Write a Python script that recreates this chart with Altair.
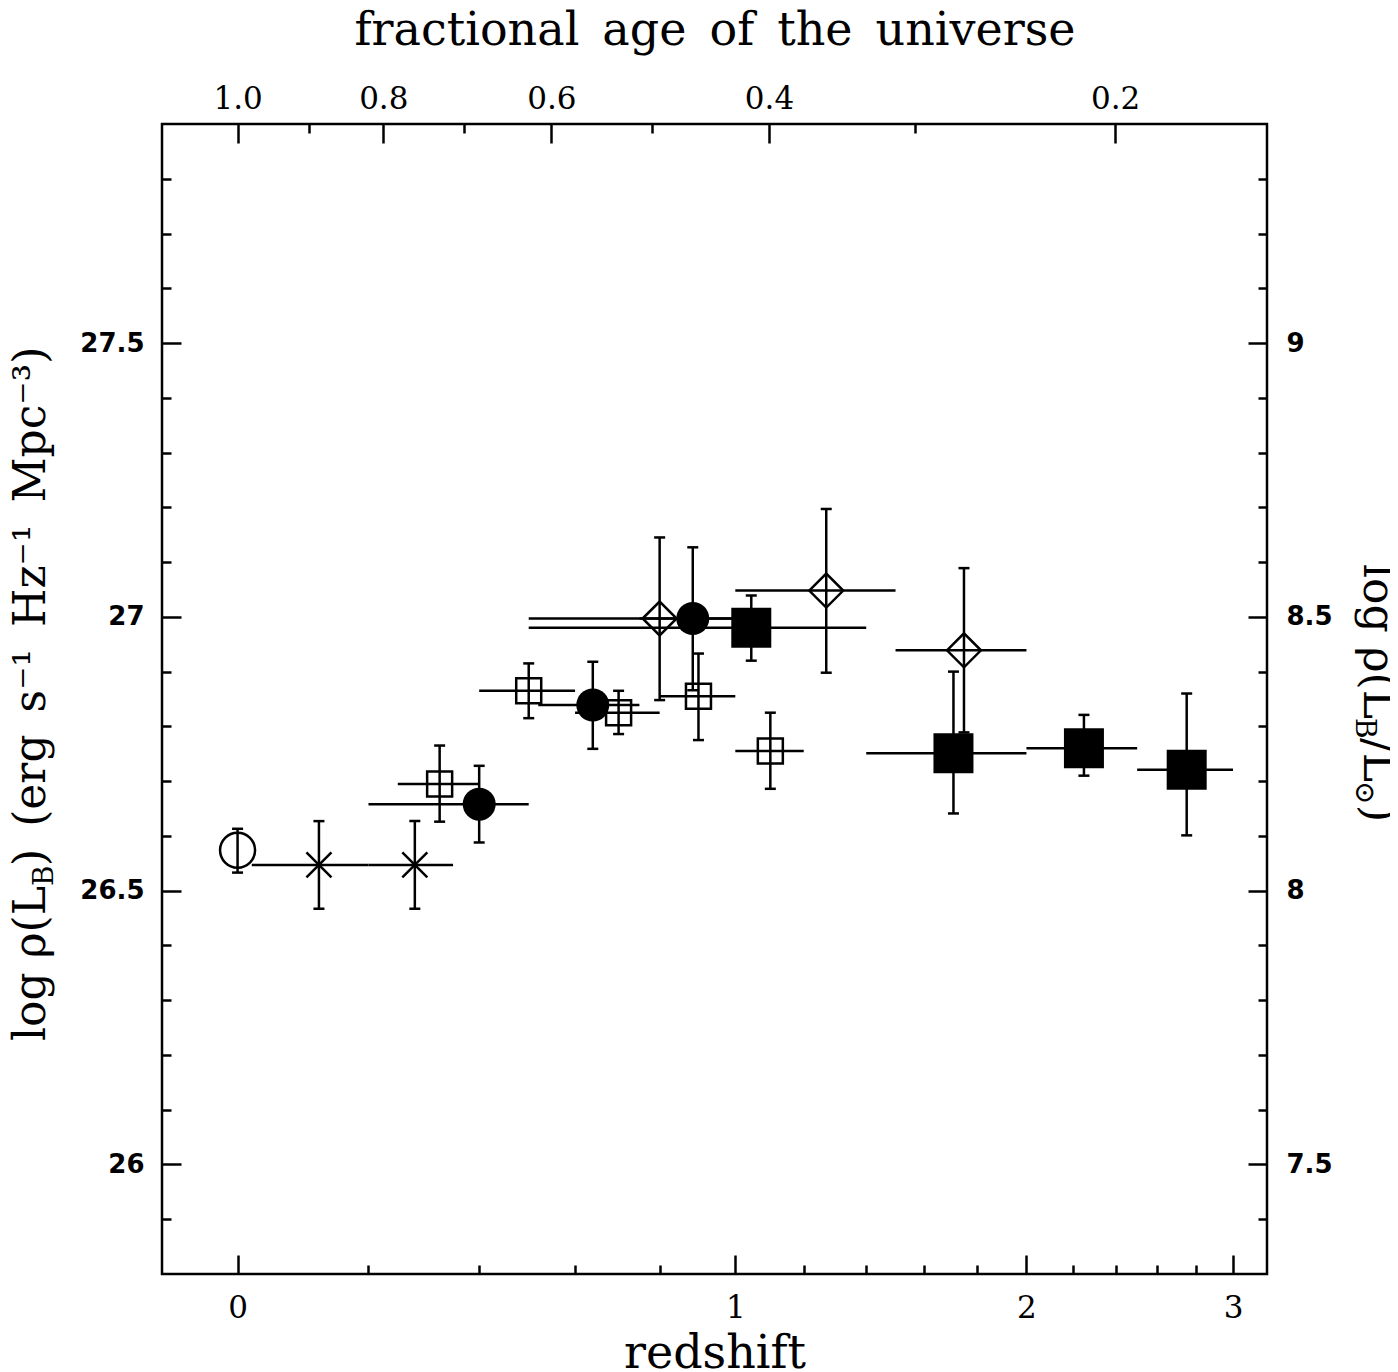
import math
import altair as alt
import pandas as pd

# ---------------- data ----------------
series = ["open circle", "cross", "cross",
          "open square", "open square", "open square", "open square", "open square",
          "filled circle", "filled circle", "filled circle",
          "open diamond", "open diamond", "open diamond",
          "filled square", "filled square", "filled square", "filled square"]
redshift = [0.0, 0.12, 0.28,
            0.325, 0.50, 0.70, 0.90, 1.10,
            0.40, 0.64, 0.885,
            0.80, 1.27, 1.75,
            1.045, 1.71, 2.25, 2.75]
z_low = [0.0, 0.02, 0.20,
         0.25, 0.40, 0.60, 0.80, 1.00,
         0.20, 0.52, 0.75,
         0.50, 1.00, 1.50,
         0.50, 1.40, 2.00, 2.50]
z_high = [0.0, 0.20, 0.35,
          0.40, 0.60, 0.80, 1.00, 1.20,
          0.50, 0.75, 1.00,
          1.00, 1.50, 2.00,
          1.40, 2.00, 2.50, 3.00]
log_rho = [26.574, 26.547, 26.547,
           26.695, 26.865, 26.825, 26.855, 26.755,
           26.658, 26.839, 26.997,
           26.997, 27.048, 26.939,
           26.980, 26.751, 26.760, 26.721]
rho_low = [26.533, 26.467, 26.467,
           26.626, 26.815, 26.786, 26.775, 26.686,
           26.588, 26.759, 26.866,
           26.848, 26.898, 26.789,
           26.920, 26.641, 26.710, 26.601]
rho_high = [26.613, 26.627, 26.627,
            26.765, 26.915, 26.865, 26.933, 26.825,
            26.728, 26.918, 27.127,
            27.145, 27.197, 27.089,
            27.039, 26.900, 26.821, 26.860]

# axis tick values
z_major = [0, 1, 2, 3]
z_major_labels = ["0", "1", "2", "3"]
z_minor = [0.2, 0.4, 0.6, 0.8, 1.2, 1.4, 1.6, 1.8, 2.2, 2.4, 2.6, 2.8]
age_labels = ["1.0", "0.8", "0.6", "0.4", "0.2"]
age_major_z = [0.0, 0.225, 0.548, 1.096, 2.394]
age_minor_z = [0.104, 0.371, 0.782, 1.569]
rho_major = [26.0, 26.5, 27.0, 27.5]
rho_minor = [25.9, 26.1, 26.2, 26.3, 26.4, 26.6, 26.7, 26.8, 26.9,
             27.1, 27.2, 27.3, 27.4, 27.6, 27.7, 27.8]
solar_offset = 18.5  # log rho(L_B/Lsun) = log rho(L_B) - 18.5


def u(z):
    return math.log10(1.0 + z)


df = pd.DataFrame({
    "series": series,
    "u": [u(z) for z in redshift],
    "u_lo": [u(z) for z in z_low],
    "u_hi": [u(z) for z in z_high],
    "log_rho": log_rho,
    "rho_low": rho_low,
    "rho_high": rho_high,
})

X_DOMAIN = [-0.0457, 0.6226]
Y_DOMAIN = [25.8, 27.9]
xscale = alt.Scale(domain=X_DOMAIN, nice=False, zero=False)
yscale = alt.Scale(domain=Y_DOMAIN, nice=False, zero=False)

SERIF = "DejaVu Serif"
SANS = "DejaVu Sans"
MAJ, MIN = 19, 9
LW = 2.5


def lookup_expr(vals, labels):
    parts = []
    for i in range(len(vals) - 1):
        mid = (vals[i] + vals[i + 1]) / 2.0
        parts.append("datum.value < %.6f ? '%s' : " % (mid, labels[i]))
    return "".join(parts) + "'%s'" % labels[-1]


base = dict(grid=False, domain=False, tickColor="black", tickWidth=LW,
            labelColor="black", titleColor="black", labelFlush=False,
            labelOverlap=False)

x_bottom_major = alt.Axis(
    orient="bottom", values=[u(z) for z in z_major], tickSize=MAJ, offset=-MAJ,
    labelExpr=lookup_expr([u(z) for z in z_major], z_major_labels),
    labelFont=SERIF, labelFontSize=31, labelPadding=19,
    title="redshift", titleFont=SERIF, titleFontSize=46, titleFontWeight="normal",
    titlePadding=8, **base)
x_bottom_minor = alt.Axis(
    orient="bottom", values=[u(z) for z in z_minor], tickSize=MIN, offset=-MIN,
    labels=False, title=None, **base)
x_top_major = alt.Axis(
    orient="top", values=[u(z) for z in age_major_z], tickSize=MAJ, offset=-MAJ,
    labelExpr=lookup_expr([u(z) for z in age_major_z], age_labels),
    labelFont=SERIF, labelFontSize=31, labelPadding=9,
    title="fractional\u2002age\u2002of\u2002the\u2002universe", titleFont=SERIF,
    titleFontSize=46, titleFontWeight="normal", titlePadding=29, **base)
x_top_minor = alt.Axis(
    orient="top", values=[u(z) for z in age_minor_z], tickSize=MIN, offset=-MIN,
    labels=False, title=None, **base)

y_left_major = alt.Axis(
    orient="left", values=rho_major, tickSize=MAJ, offset=-MAJ,
    labelExpr="format(datum.value, '~g')", labelFont=SANS, labelFontSize=26,
    labelFontWeight="bold", labelPadding=18, title=None, **base)
y_left_minor = alt.Axis(
    orient="left", values=rho_minor, tickSize=MIN, offset=-MIN,
    labels=False, title=None, **base)
y_right_major = alt.Axis(
    orient="right", values=rho_major, tickSize=MAJ, offset=-MAJ,
    labelExpr="format(datum.value - %s, '~g')" % solar_offset, labelFont=SANS,
    labelFontSize=26, labelFontWeight="bold", labelPadding=19, title=None, **base)
y_right_minor = alt.Axis(
    orient="right", values=rho_minor, tickSize=MIN, offset=-MIN,
    labels=False, title=None, **base)

hbar = alt.Chart(df).mark_rule(color="black", strokeWidth=LW).encode(
    x=alt.X("u_lo:Q", scale=xscale, axis=x_bottom_major),
    x2="u_hi:Q",
    y=alt.Y("log_rho:Q", scale=yscale, axis=y_left_major),
)
vbar = alt.Chart(df).mark_rule(color="black", strokeWidth=LW).encode(
    x=alt.X("u:Q", scale=xscale, axis=x_bottom_minor),
    y=alt.Y("rho_low:Q", scale=yscale, axis=y_left_minor),
    y2="rho_high:Q",
)
caps = alt.Chart(df).transform_fold(
    ["rho_low", "rho_high"], as_=["end", "rho_end"]
).mark_tick(orient="horizontal", size=11, thickness=LW, color="black", opacity=1).encode(
    x=alt.X("u:Q", scale=xscale, axis=x_top_major),
    y=alt.Y("rho_end:Q", scale=yscale, axis=y_right_major),
)

symbol_styles = [
    ("open circle", "circle", 1225, False),
    ("cross", "M-1,-1L1,1M-1,1L1,-1", 625, False),
    ("open square", "square", 625, False),
    ("filled circle", "circle", 1089, True),
    ("open diamond", "diamond", 1156, False),
    ("filled square", "square", 1600, True),
]

sym_layers = []
for i, (name, shape, size, filled) in enumerate(symbol_styles):
    xa = x_top_minor if i == 0 else None
    ya = y_right_minor if i == 0 else None
    if filled:
        mk = alt.Chart(df).mark_point(shape=shape, size=size, filled=True,
                                      color="black", opacity=1)
    else:
        mk = alt.Chart(df).mark_point(shape=shape, size=size, filled=False,
                                      color="black", strokeWidth=LW, opacity=1)
    sym_layers.append(
        mk.transform_filter(alt.datum.series == name).encode(
            x=alt.X("u:Q", scale=xscale, axis=xa),
            y=alt.Y("log_rho:Q", scale=yscale, axis=ya),
        )
    )

one = pd.DataFrame({"k": [0]})


def label(text, x, y, angle, align, size):
    return alt.Chart(one).mark_text(
        text=text, font=SERIF, fontSize=size, angle=angle, align=align,
        baseline="alphabetic", color="black"
    ).encode(x=alt.value(x), y=alt.value(y))


# left title: log rho(L_B) (erg s^-1 Hz^-1 Mpc^-3), reading upward
LX = -117
LY = 762
left_title = [
    label("log \u03c1(L", LX, LY, 270, "right", 44),
    label("B", LX + 8, LY, 270, "left", 28),
    label(")\u2002(erg\u2002s\u207b\u00b9\u2002Hz\u207b\u00b9\u2002Mpc\u207b\u00b3)", LX, LY - 20, 270, "left", 44),
]
# right title: log rho(L_B / L_sun), reading downward
RX = 1202
RY = 440
right_title = [
    label("log \u03c1(L", RX, RY, 90, "left", 44),
    label("B", RX - 8, RY + 154, 90, "left", 28),
    label("/L", RX, RY + 174, 90, "left", 44),
    label("\u2299", RX - 8, RY + 217, 90, "left", 28),
    label(")", RX, RY + 241, 90, "left", 44),
]

chart = alt.layer(
    hbar, vbar, caps, *sym_layers, *left_title, *right_title
).resolve_axis(
    x="independent", y="independent"
).properties(
    width=1105, height=1150,
    padding={"left": 154, "top": 116, "right": 123, "bottom": 98},
    autosize=alt.AutoSizeParams(type="none"),
).configure_view(
    stroke="black", strokeWidth=LW
)

chart.save("out.html", embed_options={"renderer": "svg", "actions": False})
